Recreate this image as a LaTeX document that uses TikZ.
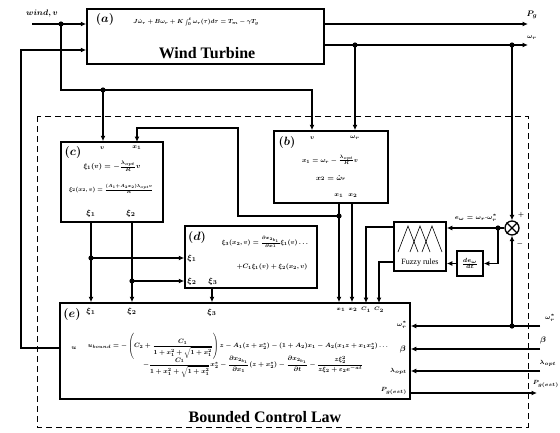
\documentclass[tikz,border=0pt]{standalone}
\usepackage{amsmath}
\usepackage{graphicx}
\usepackage{fontspec}
\setmainfont{Liberation Serif}
\usetikzlibrary{arrows.meta}
\newcommand{\fitw}[2]{\resizebox{#1}{!}{\boldmath$#2$}}

\begin{document}
\begin{tikzpicture}[x=1pt,y=-1pt,
 every node/.style={font=\fontsize{8}{9}\selectfont\boldmath},
 blk/.style={draw,line width=1.5pt,inner sep=0pt},
 conn/.style={line width=1.3pt},
 arr/.style={conn,-{Latex[length=5.5pt,width=5pt]}},
 eqn/.style={font=\fontsize{6}{7}\selectfont\boldmath,inner sep=1pt},
 small/.style={font=\fontsize{5.4}{6}\selectfont\boldmath,inner sep=1pt},
 tag/.style={font=\fontsize{12}{13}\selectfont\boldmath},
 heading/.style={font=\fontsize{16}{18}\selectfont\bfseries},
 frame/.style={line width=1pt,dash pattern=on 6pt off 4pt}]
\useasboundingbox (0,0) rectangle (560,432);

% blocks
\node[blk,minimum width=237pt,minimum height=55pt] (a) at (205.5,36.5) {};
\node[blk,minimum width=114pt,minimum height=72pt] (b) at (331,167) {};
\node[blk,minimum width=102pt,minimum height=80pt] (c) at (112,182) {};
\node[blk,minimum width=132pt,minimum height=62pt] (d) at (251,257) {};
\node[blk,minimum width=350pt,minimum height=96pt] (e) at (235,351) {};
\node[blk,minimum width=52pt,minimum height=49pt] (fuzzy) at (420,246.5) {};
\node[blk,minimum width=26pt,minimum height=25pt] (ddt) at (470,263.5)
 {$\frac{de_\omega}{dt}$};
\node[circle,draw,line width=1.3pt,minimum size=14pt,inner sep=0pt] (sum)
 at (512,228) {};
\draw[line width=1.1pt] (sum.north west)--(sum.south east)
 (sum.north east)--(sum.south west);
\draw[frame] (37,116) rectangle (528,427);

% fuzzy sets
\foreach \p in {408,420,432}
 \draw[line width=.6pt] (\p-10,252)--(\p,226)--(\p+10,252);
\node[font=\fontsize{8}{9}\selectfont,inner sep=1pt] (fzlab) at (420,263)
 {Fuzzy rules};

% ports and junctions
\coordinate (win) at (32,24);
\coordinate (jw) at (61,24);
\coordinate (lft) at (21,50);
\coordinate (eu) at (60,348);
\coordinate (bv) at (312,90);
\coordinate (jv) at (103,90);
\coordinate (pg) at (528,24);
\coordinate (wr) at (528,45);
\coordinate (jb) at (355,45);
\coordinate (js) at (512,45);
\coordinate (bx1) at (339,203);
\coordinate (bx2) at (352,203);
\coordinate (jx1) at (339,216);
\coordinate (tx) at (238,128);
\coordinate (cx1) at (137,142);
\coordinate (cxi1) at (91,222);
\coordinate (cxi2) at (132,222);
\coordinate (j1) at (91,258);
\coordinate (j2) at (132,281);
\coordinate (dxi3) at (212,288);
\coordinate (fc1) at (394,227);
\coordinate (fc2) at (394,262);
\coordinate (ec1) at (366,303);
\coordinate (ec2) at (379,303);
\coordinate (je) at (498,228);
\coordinate (wref) at (540,326);
\coordinate (jr) at (512,326);
\coordinate (beta) at (540,349);
\coordinate (lam) at (540,371);
\coordinate (pge) at (537,393);

% connectors
\draw[arr] (win)--(a.west |- win);
\draw[arr] (eu) -| (lft)--(a.west |- lft);
\draw[arr] (jw) |- (bv)--(bv |- b.north);
\draw[arr] (jv)--(jv |- c.north);
\draw[arr] (a.east |- pg)--(pg);
\draw[arr] (a.east |- wr)--(wr);
\draw[arr] (jb)--(jb |- b.north);
\draw[arr] (js)--(sum.north);
\draw[arr] (bx1)--(bx1 |- e.north);
\draw[arr] (bx2)--(bx2 |- e.north);
\draw[arr] (jx1) -| (tx) -| (cx1);
\draw[arr] (cxi1)--(cxi1 |- e.north);
\draw[arr] (cxi2)--(cxi2 |- e.north);
\draw[arr] (j1)--(j1 -| d.west);
\draw[arr] (j2)--(j2 -| d.west);
\draw[arr] (dxi3)--(dxi3 |- e.north);
\draw[arr] (fc1) -| (ec1);
\draw[arr] (fc2) -| (ec2);
\draw[arr] (sum.west)--(fuzzy.east |- sum.west);
\draw[arr] (je) |- (ddt.east);
\draw[arr] (ddt.west)--(fuzzy.east |- ddt.west);
\draw[arr] (wref)--(e.east |- wref);
\draw[arr] (jr)--(sum.south);
\draw[arr] (beta)--(e.east |- beta);
\draw[arr] (lam)--(e.east |- lam);
\draw[arr] (e.east |- pge)--(pge);
\foreach \j in {jw,jv,jb,js,jx1,j1,j2,je,jr}
 \fill (\j) circle[radius=2.6pt];

% block (a)
\node (wind) at (42,13) {\itshape$wind,v$};
\node[tag] (atag) at (105,19) {$(a)$};
\node[inner sep=1pt] (aeq) at (196,22)
 {\fitw{125pt}{J\dot{\omega}_r+B\omega_r+K\int_0^t\omega_r(\tau)d\tau=T_m-\gamma T_g}};
\node[heading] (atitle) at (207,53) {Wind Turbine};
\node[anchor=west] (pglab) at (523,15) {$P_g$};
\node[anchor=west,eqn] (wrlab) at (526,38) {$\omega_r$};

% block (b)
\node[tag] (btag) at (287,142) {$(b)$};
\node[eqn] (bvlab) at (312,138) {$v$};
\node[eqn] (bwlab) at (355,138) {$\omega_r$};
\node[inner sep=1pt] (beq1) at (330,160)
 {\fitw{56pt}{x_1=\omega_r-\frac{\lambda_{opt}}{R}v}};
\node[inner sep=1pt] (beq2) at (331,178) {\fitw{30pt}{x_2=\dot{\omega}_r}};
\node[eqn] (bx1lab) at (339,196) {$x_1$};
\node[eqn] (bx2lab) at (353,196) {$x_2$};

% block (c)
\node[tag] (ctag) at (73,152) {$(c)$};
\node[eqn] (cvlab) at (102,148) {$v$};
\node[eqn] (cxlab) at (137,148) {$x_1$};
\node[inner sep=1pt] (ceq1) at (112,166)
 {\fitw{57pt}{\xi_1(v)=-\frac{\lambda_{opt}}{R}v}};
\node[inner sep=1pt] (ceq2) at (111,189)
 {\fitw{84pt}{\xi_2(x_2,v)=\frac{(A_1+A_2x_2)\lambda_{opt}v}{R}}};
\node (cxi1lab) at (91,213) {$\xi_1$};
\node (cxi2lab) at (131,213) {$\xi_2$};

% block (d)
\node[tag] (dtag) at (197,237) {$(d)$};
\node[inner sep=1pt] (deq1) at (265,242)
 {\fitw{86pt}{\xi_3(x_2,v)=\frac{\partial x_{2_{b_1}}}{\partial x_1}\xi_1(v)\ldots}};
\node[inner sep=1pt] (deq2) at (272,267)
 {\fitw{71pt}{+C_1\xi_1(v)+\xi_2(x_2,v)}};
\node (dxi1lab) at (192,258) {$\xi_1$};
\node (dxi2lab) at (192,281) {$\xi_2$};
\node (dxi3lab) at (213,281) {$\xi_3$};

% fuzzy error
\node[eqn] (elab) at (476,218) {$e_\omega=\omega_r$-$\omega_r^*$};
\node[eqn] (plus) at (521,215) {$+$};
\node[eqn] (minus) at (520,244) {$-$};

% block (e)
\node[tag] (etag) at (72,314) {$(e)$};
\node (xi1lab) at (91,311) {$\xi_1$};
\node (xi2lab) at (132,311) {$\xi_2$};
\node (xi3lab) at (212,312) {$\xi_3$};
\node[small] (ex1lab) at (341,310) {$x_1$};
\node[small] (ex2lab) at (353,310) {$x_2$};
\node[small] (ec1lab) at (366,310) {$C_1$};
\node[small] (ec2lab) at (379,310) {$C_2$};
\node[eqn] (ulab) at (74,348) {$u$};
\node[eqn,anchor=east] (ewlab) at (408,325) {$\omega_r^*$};
\node[anchor=east,inner sep=1pt] (eblab) at (407,349) {$\beta$};
\node[eqn,anchor=east] (ellab) at (408,371) {$\lambda_{opt}$};
\node[eqn,anchor=east] (eplab) at (408,391) {$P_{g(est)}$};
\node[inner sep=0pt] (eeq1) at (238,346)
 {\fitw{300pt}{u_{bound}=-\left(C_2+\dfrac{C_1}{1+x_1^2+\sqrt{1+x_1^2}}\right)z
  -A_1(z+x_2^*)-(1+A_2)x_1-A_2(x_1z+x_1x_2^*)\ldots}};
\node[inner sep=0pt] (eeq2) at (253,367)
 {\fitw{220pt}{-\dfrac{C_1}{1+x_1^2+\sqrt{1+x_1^2}}x_2^*
  -\dfrac{\partial x_{2_{b_1}}}{\partial x_1}(z+x_2^*)
  -\dfrac{\partial x_{2_{b_1}}}{\partial t}
  -\dfrac{z\xi_2^2}{z\xi_2+\varepsilon_2e^{-at}}}};
\node[heading] (etitle) at (265,417) {Bounded Control Law};

% outside labels
\node[eqn] (owlab) at (550,318) {$\omega_r^*$};
\node (oblab) at (543,340) {$\beta$};
\node[eqn] (ollab) at (548,363) {$\lambda_{opt}$};
\node[eqn,anchor=east] (oplab) at (560,384) {$P_{g(est)}$};
\end{tikzpicture}
\end{document}
